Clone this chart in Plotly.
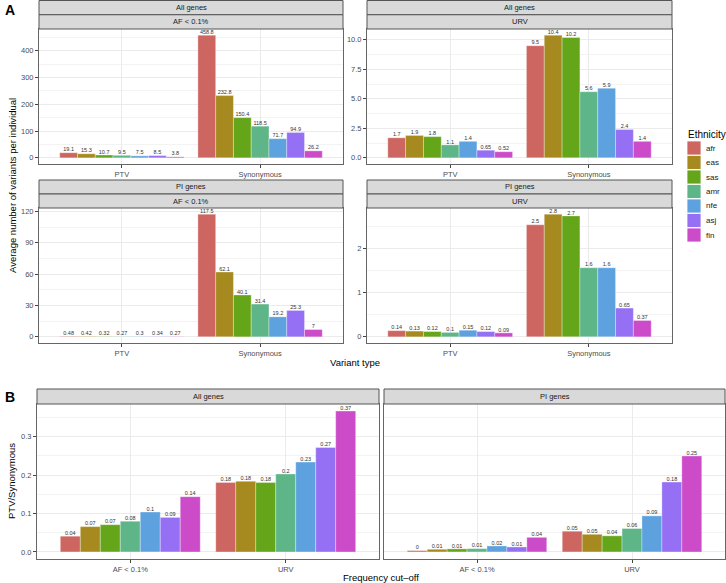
import plotly.graph_objects as go

# ---------------- data ----------------
ethnicities = ["afr", "eas", "sas", "amr", "nfe", "asj", "fin"]
colors = ["#CD6560", "#A6891F", "#64A51A", "#5EB587", "#5DA2DF", "#9570F5", "#CC4BC9"]

variant_types = ["PTV", "Synonymous"]
cutoffs = ["AF < 0.1%", "URV"]

# Panel A: average number of variants per individual
all_af_ptv = [19.1, 15.3, 10.7, 9.5, 7.5, 8.5, 3.8]
all_af_syn = [458.8, 232.8, 150.4, 118.5, 71.7, 94.9, 26.2]
all_urv_ptv = [1.7, 1.9, 1.8, 1.1, 1.4, 0.65, 0.52]
all_urv_syn = [9.5, 10.4, 10.2, 5.6, 5.9, 2.4, 1.4]
pi_af_ptv = [0.48, 0.42, 0.32, 0.27, 0.3, 0.34, 0.27]
pi_af_syn = [117.5, 62.1, 40.1, 31.4, 19.2, 25.3, 7.0]
pi_urv_ptv = [0.14, 0.13, 0.12, 0.1, 0.15, 0.12, 0.09]
pi_urv_syn = [2.53, 2.77, 2.73, 1.56, 1.56, 0.65, 0.37]

# Panel B: PTV / Synonymous ratio
ratio_all_af = [0.041, 0.066, 0.071, 0.080, 0.104, 0.090, 0.144]
ratio_all_urv = [0.181, 0.184, 0.181, 0.203, 0.234, 0.272, 0.367]
ratio_pi_af = [0.0035, 0.007, 0.008, 0.0086, 0.0156, 0.013, 0.038]
ratio_pi_urv = [0.054, 0.046, 0.042, 0.061, 0.094, 0.182, 0.250]

# ---------------- layout helpers ----------------
W, H = 726, 583
FONT = "Liberation Sans, Arial, sans-serif"


def xd(a, b):
    return [a / W, b / W]


def yd(top, bottom):
    return [1 - bottom / H, 1 - top / H]


def fmt(v, d):
    return "%g" % round(v, d)


def fmtA(v):
    return fmt(v, 1) if v >= 1 else fmt(v, 2)


panels = [
    dict(ax="", xpx=(39, 343), ypx=(29, 164), a=all_af_ptv, b=all_af_syn, cats=variant_types,
         dtick=100, tf="", f=fmtA, strips=["All genes", "AF < 0.1%"], stripy=(0.5, 29)),
    dict(ax="2", xpx=(367, 672), ypx=(29, 164), a=all_urv_ptv, b=all_urv_syn, cats=variant_types,
         dtick=2.5, tf=".1f", f=fmtA, strips=["All genes", "URV"], stripy=(0.5, 29)),
    dict(ax="3", xpx=(39, 343), ypx=(208, 343), a=pi_af_ptv, b=pi_af_syn, cats=variant_types,
         dtick=30, tf="", f=fmtA, strips=["PI genes", "AF < 0.1%"], stripy=(180, 208)),
    dict(ax="4", xpx=(367, 672), ypx=(208, 343), a=pi_urv_ptv, b=pi_urv_syn, cats=variant_types,
         dtick=1, tf="", f=fmtA, strips=["PI genes", "URV"], stripy=(180, 208)),
    dict(ax="5", xpx=(37, 379), ypx=(404, 559), a=ratio_all_af, b=ratio_all_urv, cats=cutoffs,
         dtick=0.1, tf=".1f", f=lambda v: fmt(v, 2), strips=["All genes"], stripy=(389, 404)),
    dict(ax="6", xpx=(384, 725), ypx=(404, 559), a=ratio_pi_af, b=ratio_pi_urv, cats=cutoffs,
         dtick=0.1, tf=".1f", f=lambda v: fmt(v, 2), strips=["PI genes"], stripy=(389, 404)),
]

b_max = max(ratio_all_af + ratio_all_urv + ratio_pi_af + ratio_pi_urv)

fig = go.Figure()
shapes = []
annotations = []

for p in panels:
    ax = p["ax"]
    for i, eth in enumerate(ethnicities):
        vals = [p["a"][i], p["b"][i]]
        fig.add_trace(go.Bar(
            x=p["cats"], y=vals, name=eth, showlegend=False,
            xaxis="x" + ax, yaxis="y" + ax, offsetgroup=eth,
            marker=dict(color=colors[i], line=dict(color="rgba(255,255,255,0.55)", width=0.6)),
            hovertemplate=eth + ": %{y}<extra></extra>",
        ))
    for i, eth in enumerate(ethnicities):
        vals = [p["a"][i], p["b"][i]]
        fig.add_trace(go.Scatter(
            x=p["cats"], y=vals, name=eth, showlegend=False, mode="text",
            xaxis="x" + ax, yaxis="y" + ax, offsetgroup=eth,
            text=[p["f"](v) for v in vals], textposition="top center",
            textfont=dict(size=5.5, color="#333333", family=FONT),
            cliponaxis=False, hoverinfo="skip",
        ))
    if ax in ("5", "6"):
        m = b_max
    else:
        m = max(p["a"] + p["b"])
    yr = [-0.05 * m, 1.05 * m]
    xkey = "xaxis" + ax
    ykey = "yaxis" + ax
    fig.layout[xkey] = dict(
        domain=xd(*p["xpx"]), anchor="y" + ax, type="category", range=[-0.6, 1.6],
        showgrid=True, gridcolor="#EBEBEB", gridwidth=1, zeroline=False,
        showline=True, mirror=True, linecolor="#666666", linewidth=1,
        ticks="outside", ticklen=3, tickcolor="#444444",
        tickfont=dict(size=7.5, color="#4D4D4D", family=FONT),
        fixedrange=True,
    )
    fig.layout[ykey] = dict(
        domain=yd(*p["ypx"]), anchor="x" + ax, range=yr, dtick=p["dtick"], tick0=0,
        tickformat=p["tf"], showgrid=True, gridcolor="#EBEBEB", gridwidth=1, zeroline=False,
        minor=dict(dtick=p["dtick"] / 2, tick0=0, showgrid=True, gridcolor="#F3F3F3", gridwidth=0.6),
        showline=True, mirror=True, linecolor="#666666", linewidth=1,
        ticks="outside" if ax != "6" else "", ticklen=3, tickcolor="#444444",
        showticklabels=(ax != "6"),
        tickfont=dict(size=7.5, color="#4D4D4D", family=FONT),
        fixedrange=True,
    )
    # strips
    x0, x1 = p["xpx"]
    s0, s1 = p["stripy"]
    n = len(p["strips"])
    h = (s1 - s0) / n
    for k, label in enumerate(p["strips"]):
        t = s0 + k * h
        b = t + h
        shapes.append(dict(type="rect", xref="paper", yref="paper",
                           x0=x0 / W, x1=x1 / W, y0=1 - b / H, y1=1 - t / H,
                           fillcolor="#D9D9D9", line=dict(color="#555555", width=1), layer="above"))
        annotations.append(dict(text=label, xref="paper", yref="paper",
                                x=(x0 + x1) / 2 / W, y=1 - (t + b) / 2 / H,
                                showarrow=False, xanchor="center", yanchor="middle",
                                font=dict(size=7.5, color="#1A1A1A", family=FONT)))

# axis titles
annotations += [
    dict(text="Average number of variants per individual", x=12 / W, y=1 - 186 / H, textangle=-90,
         font=dict(size=9.5, color="black", family=FONT)),
    dict(text="Variant type", x=355 / W, y=1 - 362 / H, font=dict(size=9.5, color="black", family=FONT)),
    dict(text="PTV/Synonymous", x=12 / W, y=1 - 481 / H, textangle=-90,
         font=dict(size=9.5, color="black", family=FONT)),
    dict(text="Frequency cut\u2013off", x=381 / W, y=1 - 577 / H,
         font=dict(size=9.5, color="black", family=FONT)),
    dict(text="<b>A</b>", x=10 / W, y=1 - 10 / H, font=dict(size=14, color="black", family=FONT)),
    dict(text="<b>B</b>", x=10 / W, y=1 - 397 / H, font=dict(size=14, color="black", family=FONT)),
    dict(text="Ethnicity", x=686 / W, y=1 - 134 / H, xanchor="left",
         font=dict(size=10, color="black", family=FONT)),
]
for a in annotations:
    a.setdefault("xref", "paper")
    a.setdefault("yref", "paper")
    a.setdefault("showarrow", False)
    a.setdefault("xanchor", "center")
    a.setdefault("yanchor", "middle")

# legend keys
for i, eth in enumerate(ethnicities):
    top = 141 + i * 14.5
    shapes.append(dict(type="rect", xref="paper", yref="paper",
                       x0=687 / W, x1=701 / W, y0=1 - (top + 14) / H, y1=1 - top / H,
                       fillcolor=colors[i], line=dict(color="rgba(255,255,255,0.8)", width=1)))
    annotations.append(dict(text=eth, xref="paper", yref="paper", x=704 / W, y=1 - (top + 7) / H,
                            showarrow=False, xanchor="left", yanchor="middle",
                            font=dict(size=8, color="#1A1A1A", family=FONT)))

fig.update_layout(
    width=W, height=H, margin=dict(l=0, r=0, t=0, b=0),
    paper_bgcolor="white", plot_bgcolor="white",
    barmode="group", bargap=0.1, bargroupgap=0,
    scattermode="group", scattergap=0.1,
    shapes=shapes, annotations=annotations, showlegend=False,
    font=dict(family=FONT),
)

fig.write_html(
    "out.html",
    config={"displayModeBar": False},
    post_script="document.body.style.margin='0';document.body.style.padding='0';"
                "document.body.style.overflow='hidden';",
)
